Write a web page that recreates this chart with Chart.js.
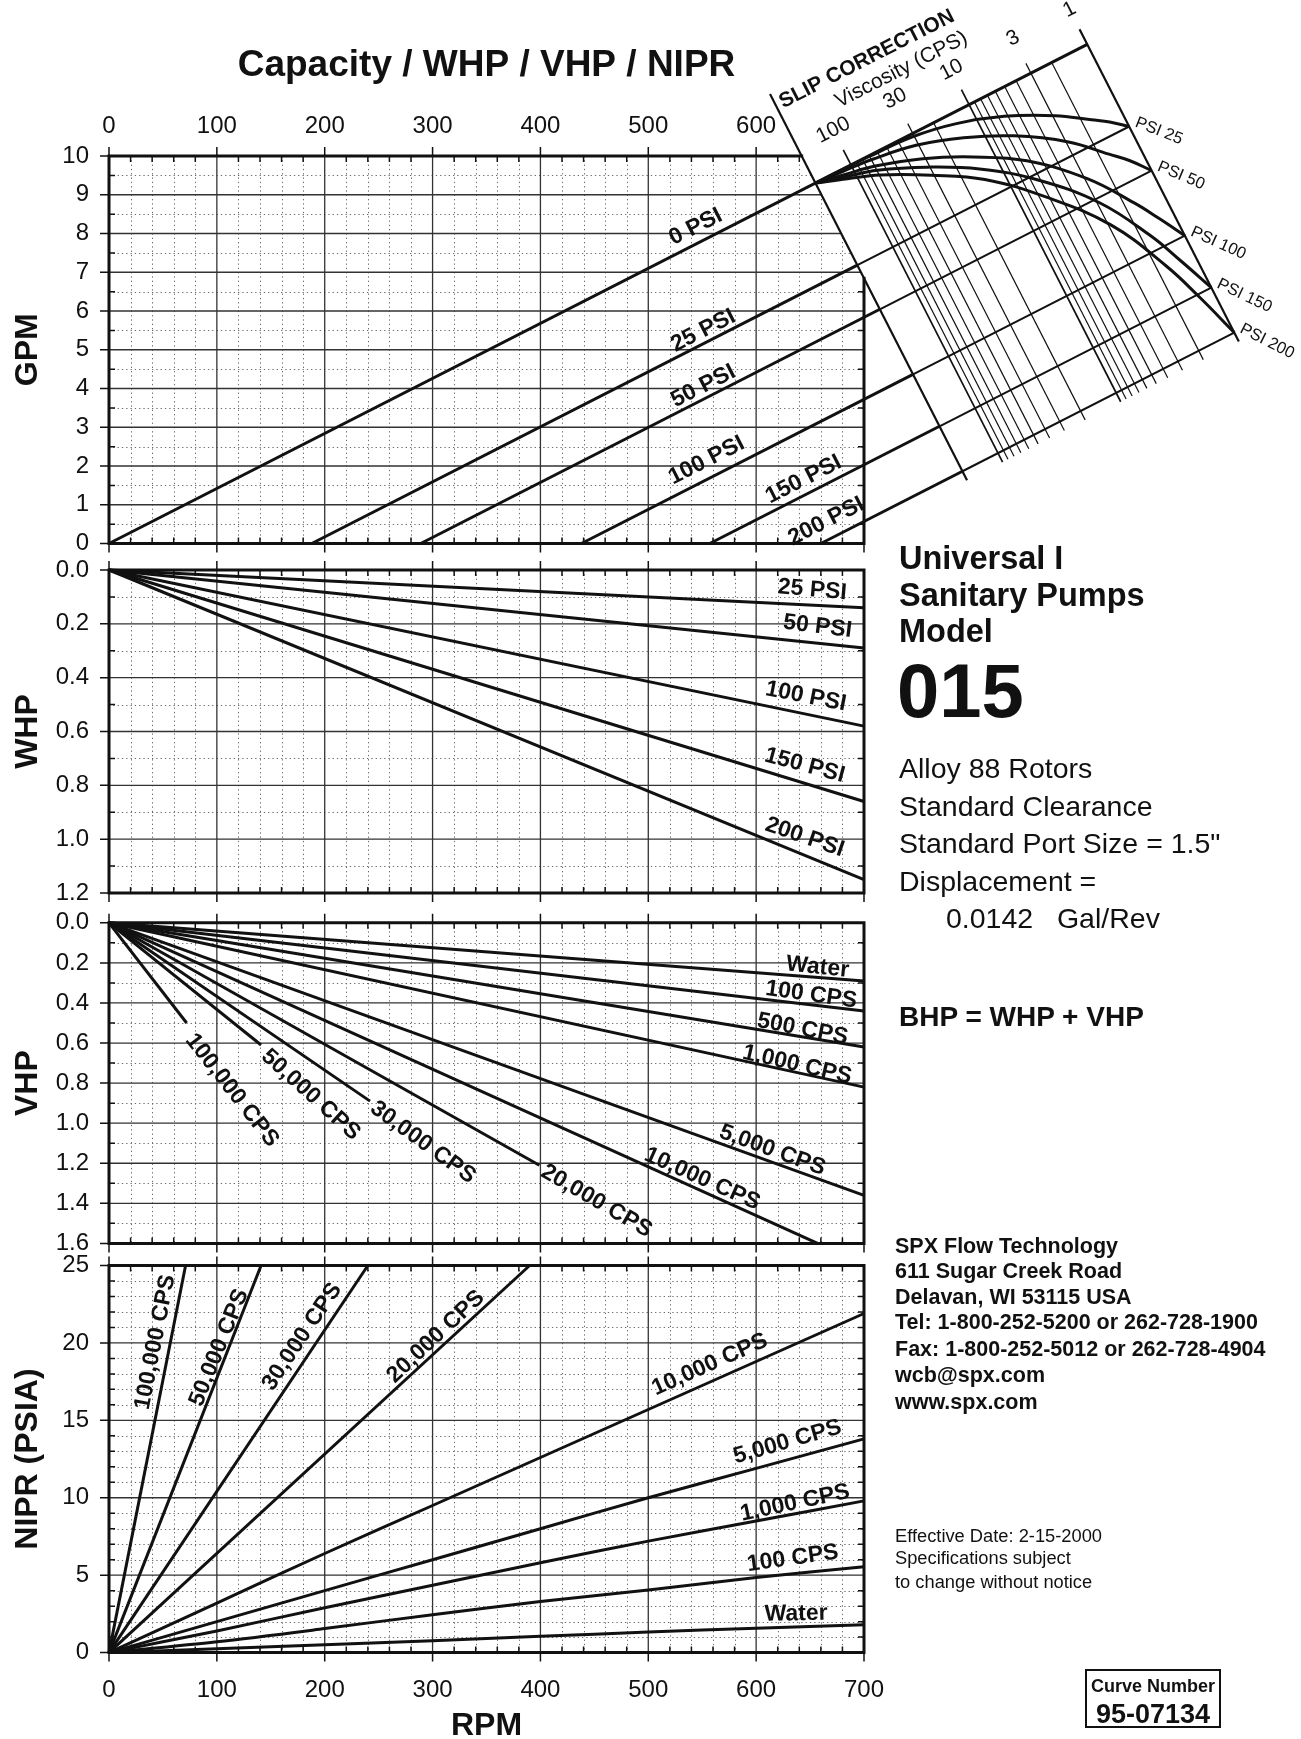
<!DOCTYPE html>
<html lang="en">
<head>
<meta charset="UTF-8">
<title>Universal I Model 015 - Capacity / WHP / VHP / NIPR</title>
<script src="https://cdn.jsdelivr.net/npm/chart.js@4"></script>
<style>
  body { margin: 0; background: #fff; }
  #page { position: relative; width: 1301px; height: 1739px; overflow: hidden; font-family: "Liberation Sans", Arial, sans-serif; color: #111; }
  canvas { position: absolute; left: 0; }
  .t { position: absolute; white-space: nowrap; line-height: 1; }
  .b { font-weight: bold; }
  .box { position: absolute; left: 1085px; top: 1669px; width: 132px; height: 55px; border: 2px solid #111; text-align: center; }
</style>
</head>
<body>
<div id="page">
  <canvas id="cap" width="1301" height="570" style="top:0"></canvas>
  <canvas id="whp" width="1301" height="370" style="top:545px"></canvas>
  <canvas id="vhp" width="1301" height="370" style="top:897px"></canvas>
  <canvas id="nipr" width="1301" height="505" style="top:1240px"></canvas>

  <div class="t b" style="left:899px;top:542px;font-size:32.5px">Universal I</div>
  <div class="t b" style="left:899px;top:579px;font-size:32.5px">Sanitary Pumps</div>
  <div class="t b" style="left:899px;top:615px;font-size:32.5px">Model</div>
  <div class="t b" style="left:897px;top:653px;font-size:76px">015</div>
  <div class="t" style="left:899px;top:754px;font-size:28.5px">Alloy 88 Rotors</div>
  <div class="t" style="left:899px;top:792px;font-size:28.5px">Standard Clearance</div>
  <div class="t" style="left:899px;top:829px;font-size:28.5px">Standard Port Size = 1.5"</div>
  <div class="t" style="left:899px;top:867px;font-size:28.5px">Displacement =</div>
  <div class="t" style="left:946px;top:904px;font-size:28.5px">0.0142&nbsp;&nbsp;&nbsp;Gal/Rev</div>
  <div class="t b" style="left:899px;top:1003px;font-size:28px">BHP = WHP + VHP</div>

  <div class="t b" style="left:895px;top:1236px;font-size:21.5px">SPX Flow Technology</div>
  <div class="t b" style="left:895px;top:1261px;font-size:21.5px">611 Sugar Creek Road</div>
  <div class="t b" style="left:895px;top:1287px;font-size:21.5px">Delavan, WI 53115 USA</div>
  <div class="t b" style="left:895px;top:1312px;font-size:21.5px">Tel: 1-800-252-5200 or 262-728-1900</div>
  <div class="t b" style="left:895px;top:1339px;font-size:21.5px">Fax: 1-800-252-5012 or 262-728-4904</div>
  <div class="t b" style="left:895px;top:1365px;font-size:21.5px">wcb@spx.com</div>
  <div class="t b" style="left:895px;top:1392px;font-size:21.5px">www.spx.com</div>

  <div class="t" style="left:895px;top:1527px;font-size:18.3px">Effective Date: 2-15-2000</div>
  <div class="t" style="left:895px;top:1549px;font-size:18.3px">Specifications subject</div>
  <div class="t" style="left:895px;top:1573px;font-size:18.3px">to change without notice</div>

  <div class="box">
    <div class="b" style="font-size:18px;margin-top:5px">Curve Number</div>
    <div class="b" style="font-size:27px;margin-top:2px">95-07134</div>
  </div>
</div>

<script>
// ---------- values ----------
const rpmMax = 700;
const displacement = 0.0142;                       // gal/rev
const psiLevels = [0, 25, 50, 100, 150, 200];
const zeroFlowRpm = [0, 188, 289, 438, 557, 660];  // rpm where each pressure line leaves 0 GPM

// slip correction chart
const slipJoinRpm = 655;   // all slip curves start here on the 0 PSI line
const slipEndRpm = 907;    // the 1 cps edge on the 0 PSI line
const viscMax = 200;       // left edge of the slip chart, cps
const viscLines = [1, 2, 3, 4, 5, 6, 7, 8, 9, 10, 20, 30, 40, 50, 60, 70, 80, 90, 100];
const viscLabels = [1, 3, 10, 30, 100];
const slipT = [0, 0.1, 0.2, 0.35, 0.5, 0.65, 0.8, 0.9, 0.95, 1];   // share of the way to 1 cps
const slip25  = [0, 0.002, 0.008, 0.03, 0.12, 0.285, 0.53, 0.75, 0.86, 1];
const slip50  = [0, 0.015, 0.033, 0.085, 0.19, 0.34, 0.553, 0.76, 0.865, 1];
const slip100 = [0, 0.027, 0.056, 0.126, 0.226, 0.355, 0.557, 0.755, 0.873, 1];
const slip150 = [0, 0.03, 0.061, 0.134, 0.227, 0.356, 0.537, 0.73, 0.86, 1];
const slip200 = [0, 0.033, 0.068, 0.141, 0.228, 0.36, 0.53, 0.72, 0.85, 1];
const slipCurves = [slip25, slip50, slip100, slip150, slip200];

// WHP
const whpPsi = [25, 50, 100, 150, 200];
const whpAt700 = [0.14, 0.29, 0.58, 0.86, 1.15];

// VHP
const vhpNames = ['Water', '100 CPS', '500 CPS', '1,000 CPS', '5,000 CPS', '10,000 CPS', '20,000 CPS', '30,000 CPS', '50,000 CPS', '100,000 CPS'];
const vhpEndRpm = [700, 700, 700, 700, 700, 657, 399, 242, 141, 72];
const vhpEndHp = [0.29, 0.44, 0.62, 0.82, 1.36, 1.6, 1.21, 0.89, 0.61, 0.50];

// NIPR
const niprRpm = [0, 100, 200, 300, 400, 500, 600, 700];
const niprWater = [0, 0.25, 0.5, 0.77, 1.05, 1.33, 1.58, 1.8];
const nipr100 = [0, 0.7, 1.55, 2.45, 3.3, 4.05, 4.85, 5.55];
const nipr1000 = [0, 1.4, 2.9, 4.35, 5.8, 7.2, 8.5, 9.8];
const nipr5000 = [0, 2.0, 4.0, 6.0, 8.0, 10.0, 11.9, 13.8];
const nipr10000 = [0, 3.2, 6.4, 9.5, 12.6, 15.7, 18.8, 21.9];
const niprSteepNames = ['20,000 CPS', '30,000 CPS', '50,000 CPS', '100,000 CPS'];
const niprTopRpm = [390, 240, 141, 71];   // rpm where these reach 25 PSIA

// ---------- label placement ----------
const gpmTags = [
  {text: '0 PSI', x: 544, y: 8.17, rot: -27},
  {text: '25 PSI', x: 551, y: 5.49, rot: -27},
  {text: '50 PSI', x: 551, y: 4.06, rot: -27},
  {text: '100 PSI', x: 554, y: 2.14, rot: -27},
  {text: '150 PSI', x: 644, y: 1.65, rot: -27},
  {text: '200 PSI', x: 665, y: 0.57, rot: -27}
];
const whpTags = [
  {text: '25 PSI', x: 652, y: 0.074, rot: 5},
  {text: '50 PSI', x: 657, y: 0.21, rot: 7},
  {text: '100 PSI', x: 646, y: 0.47, rot: 11},
  {text: '150 PSI', x: 645, y: 0.726, rot: 15},
  {text: '200 PSI', x: 645, y: 0.993, rot: 19}
];
const vhpTags = [
  {text: 'Water', x: 657, y: 0.222, rot: 6},
  {text: '100 CPS', x: 651, y: 0.36, rot: 8},
  {text: '500 CPS', x: 643, y: 0.531, rot: 11},
  {text: '1,000 CPS', x: 638, y: 0.709, rot: 13},
  {text: '5,000 CPS', x: 615, y: 1.135, rot: 20},
  {text: '10,000 CPS', x: 550, y: 1.278, rot: 24},
  {text: '20,000 CPS', x: 452, y: 1.389, rot: 30},
  {text: '30,000 CPS', x: 291, y: 1.096, rot: 36},
  {text: '50,000 CPS', x: 187, y: 0.858, rot: 42},
  {text: '100,000 CPS', x: 114, y: 0.836, rot: 52}
];
const niprTags = [
  {text: '100,000 CPS', x: 43, y: 20.05, rot: -79},
  {text: '50,000 CPS', x: 102, y: 19.7, rot: -68},
  {text: '30,000 CPS', x: 179, y: 20.4, rot: -56},
  {text: '20,000 CPS', x: 303, y: 20.4, rot: -43},
  {text: '10,000 CPS', x: 557, y: 18.6, rot: -24},
  {text: '5,000 CPS', x: 629, y: 13.6, rot: -16},
  {text: '1,000 CPS', x: 636, y: 9.66, rot: -12},
  {text: '100 CPS', x: 634, y: 6.08, rot: -8},
  {text: 'Water', x: 637, y: 2.5, rot: -1}
];

// ---------- helpers ----------
const INK = '#111';
const FONT = '"Liberation Sans", Arial, sans-serif';
Chart.defaults.font.family = FONT;
Chart.defaults.color = INK;

function steps(min, max, step) {
  const out = [];
  for (let v = min; v <= max + 1e-9; v += step) out.push(+v.toFixed(6));
  return out;
}
const isMult = (v, s) => Math.abs(v / s - Math.round(v / s)) < 1e-6;

// paper style grid: dotted minor, thin solid major, heavy frame with ticks
function makeGrid(o) {
  return {
    id: 'panelGrid',
    beforeDatasetsDraw(chart) {
      const {ctx, chartArea: a, scales: {x, y}} = chart;
      const cut = chart.$cut;
      let xTop = a.right, yRight = a.top;
      if (cut) {
        xTop = cut.cx + (a.top - cut.cy) * cut.nx / cut.ny;
        yRight = cut.cy + (a.right - cut.cx) * cut.ny / cut.nx;
      }
      const xs = steps(x.min, x.max, o.xMinor);
      const ys = steps(y.min, y.max, o.yMinor);

      ctx.save();
      ctx.beginPath();
      ctx.moveTo(a.left, a.top);
      ctx.lineTo(xTop, a.top);
      ctx.lineTo(a.right, yRight);
      ctx.lineTo(a.right, a.bottom);
      ctx.lineTo(a.left, a.bottom);
      ctx.closePath();
      ctx.clip();

      ctx.setLineDash([1.3, 3]);
      ctx.lineWidth = 1;
      ctx.strokeStyle = '#6a6a6a';
      ctx.beginPath();
      xs.filter(v => !isMult(v, o.xMajor)).forEach(v => {
        const p = Math.round(x.getPixelForValue(v)) + 0.5;
        ctx.moveTo(p, a.top); ctx.lineTo(p, a.bottom);
      });
      ys.filter(v => !isMult(v, o.yMajor)).forEach(v => {
        const p = Math.round(y.getPixelForValue(v)) + 0.5;
        ctx.moveTo(a.left, p); ctx.lineTo(a.right, p);
      });
      ctx.stroke();

      ctx.setLineDash([]);
      ctx.lineWidth = 1.3;
      ctx.strokeStyle = '#333';
      ctx.beginPath();
      xs.filter(v => isMult(v, o.xMajor)).forEach(v => {
        const p = x.getPixelForValue(v);
        ctx.moveTo(p, a.top); ctx.lineTo(p, a.bottom);
      });
      ys.filter(v => isMult(v, o.yMajor)).forEach(v => {
        const p = y.getPixelForValue(v);
        ctx.moveTo(a.left, p); ctx.lineTo(a.right, p);
      });
      ctx.stroke();
      ctx.restore();

      ctx.save();
      ctx.strokeStyle = INK;
      ctx.lineWidth = 3;
      ctx.lineCap = 'square';
      ctx.beginPath();
      ctx.moveTo(xTop, a.top);
      ctx.lineTo(a.left, a.top);
      ctx.lineTo(a.left, a.bottom);
      ctx.lineTo(a.right, a.bottom);
      ctx.lineTo(a.right, yRight);
      ctx.stroke();

      ctx.lineWidth = 1.5;
      ctx.lineCap = 'butt';
      ctx.beginPath();
      xs.forEach(v => {
        const p = x.getPixelForValue(v);
        if (isMult(v, o.xMajor)) {
          if (p < xTop) { ctx.moveTo(p, a.top - 9); ctx.lineTo(p, a.top); }
          ctx.moveTo(p, a.bottom); ctx.lineTo(p, a.bottom + 9);
        } else {
          if (p < xTop) { ctx.moveTo(p, a.top); ctx.lineTo(p, a.top + 6); }
          ctx.moveTo(p, a.bottom); ctx.lineTo(p, a.bottom - 6);
        }
      });
      ys.forEach(v => {
        const p = y.getPixelForValue(v);
        if (isMult(v, o.yMajor)) {
          ctx.moveTo(a.left - 9, p); ctx.lineTo(a.left, p);
        } else {
          ctx.moveTo(a.left, p); ctx.lineTo(a.left + 6, p);
          if (p > yRight + 2) { ctx.moveTo(a.right, p); ctx.lineTo(a.right - 6, p); }
        }
      });
      ctx.stroke();
      ctx.restore();
    }
  };
}

// rotated text placed in data units
function makeTags(items) {
  return {
    id: 'tags',
    afterDatasetsDraw(chart) {
      const {ctx, scales: {x, y}} = chart;
      items.concat(chart.$tags || []).forEach(t => {
        ctx.save();
        ctx.translate(x.getPixelForValue(t.x), y.getPixelForValue(t.y));
        ctx.rotate(t.rot * Math.PI / 180);
        ctx.font = `${t.weight || 'bold'} ${t.size || 23}px ${FONT}`;
        ctx.fillStyle = INK;
        ctx.textAlign = t.align || 'center';
        ctx.textBaseline = 'middle';
        ctx.fillText(t.text, 0, 0);
        ctx.restore();
      });
    }
  };
}

const lineSet = (pts, w, tension) => ({
  data: pts, showLine: true, borderColor: INK, borderWidth: w || 3,
  pointRadius: 0, pointHoverRadius: 0, tension: tension || 0, clip: false
});

function yScale(min, max, step, reverse, title, digits) {
  return {
    type: 'linear', min, max, reverse,
    // fixed axis width, and no extra room reserved for the end labels
    afterFit: s => { s.width = 109; s.paddingTop = 0; s.paddingBottom = 0; },
    grid: {display: false, drawTicks: false},
    border: {display: false},
    ticks: {stepSize: step, padding: 20, autoSkip: false, font: {size: 24}, color: INK,
      callback: v => v.toFixed(digits)},
    title: {display: true, text: title, color: INK, font: {size: 32, weight: 'bold'}, padding: {top: 9, bottom: 0}}
  };
}

function xScale(position, height, pad, title) {
  return {
    type: 'linear', min: 0, max: rpmMax, position,
    afterFit: s => { s.height = height; },
    grid: {display: false, drawTicks: false},
    border: {display: false},
    ticks: {stepSize: 100, padding: pad, maxRotation: 0, autoSkip: false, font: {size: 24}, color: INK,
      callback: v => (position === 'top' && v >= rpmMax) ? '' : v},
    title: title ? {display: true, text: title, color: INK, font: {size: 32, weight: 'bold'}, padding: {top: 0, bottom: 0}} : {display: false}
  };
}
const hiddenX = {type: 'linear', min: 0, max: rpmMax, display: false};

function makeChart(id, padding, scales, datasets, grid, tags, title) {
  return new Chart(document.getElementById(id), {
    type: 'scatter',
    data: {datasets},
    options: {
      responsive: false, animation: false, events: [],
      layout: {padding},
      plugins: {legend: {display: false}, tooltip: {enabled: false}, title: title || {display: false}},
      scales
    },
    plugins: [makeGrid(grid), makeTags(tags)]
  });
}

// ---------- capacity panel + slip correction chart ----------
const cap = makeChart('cap', {left: 0, right: 437, top: 0, bottom: 26.5},
  {x: xScale('top', 50, 15), y: yScale(0, 10, 1, false, 'GPM', 0)},
  [], {xMajor: 100, xMinor: 20, yMajor: 1, yMinor: 0.5}, gpmTags,
  {display: true, text: 'Capacity / WHP / VHP / NIPR', color: INK, fullSize: false,
   font: {size: 37, weight: 'bold'}, padding: {top: 44, bottom: 17.6}});

(function addSlipChart(chart) {
  const xs = chart.scales.x, ys = chart.scales.y;
  const toPx = (r, g) => ({x: xs.getPixelForValue(r), y: ys.getPixelForValue(g)});
  const toVal = p => ({x: xs.getValueForPixel(p.x), y: ys.getValueForPixel(p.y)});
  const C = toPx(slipJoinRpm, displacement * slipJoinRpm);
  const E = toPx(slipEndRpm, displacement * slipEndRpm);
  const L = Math.hypot(E.x - C.x, E.y - C.y);
  const u = {x: (E.x - C.x) / L, y: (E.y - C.y) / L};
  const n = {x: -u.y, y: u.x};
  const O = toPx(0, 0);
  // offset of each pressure line from the 0 PSI line, across the slip chart
  const off = zeroFlowRpm.map(r => {
    const P = toPx(r, 0);
    return (P.x - O.x) * n.x + (P.y - O.y) * n.y;
  });
  const at = (t, p) => toVal({x: C.x + t * u.x + p * n.x, y: C.y + t * u.y + p * n.y});
  const tOf = v => L * (Math.log10(viscMax) - Math.log10(v)) / Math.log10(viscMax);
  const ang = Math.atan2(u.y, u.x) * 180 / Math.PI;
  const deep = off[off.length - 1] + 10;
  chart.$cut = {cx: C.x, cy: C.y, nx: n.x, ny: n.y};

  const ds = chart.data.datasets;
  // points listed right to left so nothing past 700 rpm is trimmed
  ds.push(lineSet([at(L, 0), {x: 0, y: 0}], 3));
  psiLevels.forEach((psi, i) => {
    if (i === 0) return;
    ds.push(lineSet([at(0, off[i]), {x: zeroFlowRpm[i], y: 0}], 3));
    ds.push(lineSet([at(L, off[i]), at(0, off[i])], 2));
  });
  ds.push(lineSet([at(0, deep), at(0, -100)], 2.2));
  viscLines.forEach(v => {
    const t = tOf(v);
    const major = [1, 10, 100].includes(v);
    const ext = major ? 17 : ([3, 30].includes(v) ? 11 : 0);
    ds.push(lineSet([at(t, deep), at(t, -ext)], v === 1 ? 2.2 : (major ? 1.7 : 1.2)));
  });
  slipCurves.forEach((curve, k) => {
    const p = off[k + 1];
    const pts = slipT.map((f, j) => at(f * L, curve[j] * p)).reverse();
    ds.push(lineSet(pts, 3, 0.4));
  });

  const tags = [];
  viscLabels.forEach(v => tags.push(Object.assign({text: String(v), rot: ang, weight: 'normal', size: 21}, at(tOf(v), -39))));
  tags.push(Object.assign({text: 'SLIP CORRECTION', rot: ang, size: 21}, at(102, -87)));
  tags.push(Object.assign({text: 'Viscosity (CPS)', rot: ang, weight: 'normal', size: 21}, at(128, -62)));
  psiLevels.forEach((psi, i) => {
    if (i === 0) return;
    tags.push(Object.assign({text: 'PSI ' + psi, rot: 20 + i * 1.4, weight: 'normal', size: 16.5, align: 'left'}, at(L + 8, off[i] - 1)));
  });
  chart.$tags = tags;
  chart.update('none');
})(cap);

// ---------- WHP ----------
makeChart('whp', {left: 0, right: 437, top: 25, bottom: 22},
  {x: hiddenX, y: yScale(0, 1.2, 0.2, true, 'WHP', 1)},
  whpPsi.map((p, i) => lineSet([{x: 0, y: 0}, {x: rpmMax, y: whpAt700[i]}], 3)),
  {xMajor: 100, xMinor: 20, yMajor: 0.2, yMinor: 0.1}, whpTags);

// ---------- VHP ----------
makeChart('vhp', {left: 0, right: 437, top: 25.8, bottom: 23.6},
  {x: hiddenX, y: yScale(0, 1.6, 0.2, true, 'VHP', 1)},
  vhpNames.map((name, i) => lineSet([{x: 0, y: 0}, {x: vhpEndRpm[i], y: vhpEndHp[i]}], 3)),
  {xMajor: 100, xMinor: 20, yMajor: 0.2, yMinor: 0.1}, vhpTags);

// ---------- NIPR ----------
const niprSets = [niprWater, nipr100, nipr1000, nipr5000, nipr10000]
  .map(vals => lineSet(niprRpm.map((r, i) => ({x: r, y: vals[i]})), 3, 0.3));
niprSteepNames.forEach((name, i) => niprSets.push(lineSet([{x: 0, y: 0}, {x: niprTopRpm[i], y: 25}], 3)));

makeChart('nipr', {left: 0, right: 437, top: 25.5, bottom: 0},
  {x: xScale('bottom', 92.4, 23.6, 'RPM'), y: yScale(0, 25, 5, false, 'NIPR (PSIA)', 0)},
  niprSets, {xMajor: 100, xMinor: 20, yMajor: 5, yMinor: 1}, niprTags);
</script>
</body>
</html>
